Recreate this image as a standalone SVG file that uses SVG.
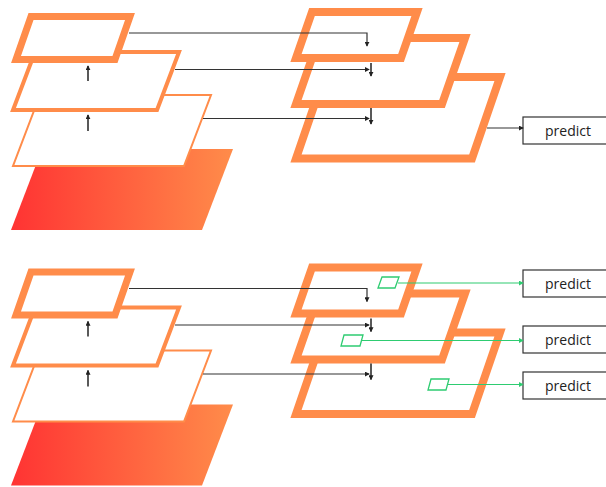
<svg xmlns="http://www.w3.org/2000/svg" width="606" height="487" viewBox="0 0 606 487">
  <defs>
    <linearGradient id="img" x1="0" y1="0" x2="1" y2="0">
      <stop offset="0" stop-color="#ff3333"/>
      <stop offset="1" stop-color="#ff8c4a"/>
    </linearGradient>
    <marker id="ah" viewBox="0 0 6 6" refX="5" refY="3" markerWidth="5" markerHeight="5" orient="auto" markerUnits="userSpaceOnUse">
      <path d="M0,0 L6,3 L0,6 z" fill="#222"/>
    </marker>
    <marker id="ahg" viewBox="0 0 6 6" refX="5" refY="3" markerWidth="5" markerHeight="5" orient="auto" markerUnits="userSpaceOnUse">
      <path d="M0,0 L6,3 L0,6 z" fill="#2ecc71"/>
    </marker>
  </defs>
  <style>
    .fm { fill: #fff; stroke: #ff8c4a; stroke-linejoin: miter; }
    .img { fill: url(#img); }
    .ln { fill: none; stroke: #333; stroke-width: 1.2; }
    .up { fill: none; stroke: #222; stroke-width: 1.5; }
    .gl { fill: none; stroke: #2ecc71; stroke-width: 1.2; }
    .gb { fill: #fff; stroke: #2ecc71; stroke-width: 1.3; }
    .box { fill: #fff; stroke: #333; stroke-width: 1.2; }
    .lbl { font-family: "Open Sans", "Noto Sans", sans-serif; font-size: 14px; fill: #222; text-anchor: middle; }
  </style>

  <!-- upper panel: single prediction -->
  <g id="panelA">
    <g id="a-input"><polygon class="img" points="42,149 233,149 202,230 11,230"/></g>
    <g id="a-c3"><polygon class="fm" stroke-width="2" points="40,95 211,95 184,166 13,166"/></g>
    <g id="a-c4"><polygon class="fm" stroke-width="4" points="35,52 179,52 157,110 13,110"/></g>
    <g id="a-c5"><polygon class="fm" stroke-width="7" points="31,16.5 130,16.5 115,59.5 16,59.5"/></g>
    <g id="a-p3"><polygon class="fm" stroke-width="8" points="324,77 500,77 472,158.5 296,158.5"/></g>
    <g id="a-p4"><polygon class="fm" stroke-width="8" points="319,38 465,38 442,104 296,104"/></g>
    <g id="a-p5"><polygon class="fm" stroke-width="8" points="312,12 417,12 401,58 296,58"/></g>
    <g id="a-predict">
      <rect class="box" x="523" y="117" width="90" height="27"/>
      <text class="lbl" x="568" y="135.5">predict</text>
    </g>
    <g id="a-connectors">
      <line class="up" x1="88" y1="81" x2="88" y2="66" marker-end="url(#ah)"/>
      <line class="up" x1="88" y1="131" x2="88" y2="115" marker-end="url(#ah)"/>
      <polyline class="ln" points="129,33 367,33 367,46" marker-end="url(#ah)"/>
      <line class="ln" x1="175" y1="69.5" x2="369" y2="69.5" marker-end="url(#ah)"/>
      <line class="up" x1="371" y1="63" x2="371" y2="76" marker-end="url(#ah)"/>
      <line class="ln" x1="203" y1="118.5" x2="369" y2="118.5" marker-end="url(#ah)"/>
      <line class="up" x1="371" y1="108" x2="371" y2="124" marker-end="url(#ah)"/>
      <line class="ln" x1="487" y1="128" x2="523" y2="128" marker-end="url(#ah)"/>
    </g>
  </g>

  <!-- lower panel: prediction at every level -->
  <g id="panelB" transform="translate(0,255.5)">
    <g id="b-input"><polygon class="img" points="42,149 233,149 202,230 11,230"/></g>
    <g id="b-c3"><polygon class="fm" stroke-width="2" points="40,95 211,95 184,166 13,166"/></g>
    <g id="b-c4"><polygon class="fm" stroke-width="4" points="35,52 179,52 157,110 13,110"/></g>
    <g id="b-c5"><polygon class="fm" stroke-width="7" points="31,16.5 130,16.5 115,59.5 16,59.5"/></g>
    <g id="b-p3"><polygon class="fm" stroke-width="8" points="324,77 500,77 472,158.5 296,158.5"/></g>
    <g id="b-p4"><polygon class="fm" stroke-width="8" points="319,38 465,38 442,104 296,104"/></g>
    <g id="b-p5"><polygon class="fm" stroke-width="8" points="312,12 417,12 401,58 296,58"/></g>
    <g id="b-predict1">
      <rect class="box" x="523" y="14.5" width="90" height="27"/>
      <text class="lbl" x="568" y="33">predict</text>
    </g>
    <g id="b-predict2">
      <rect class="box" x="523" y="70.5" width="90" height="27"/>
      <text class="lbl" x="568" y="89">predict</text>
    </g>
    <g id="b-predict3">
      <rect class="box" x="523" y="116.5" width="90" height="27"/>
      <text class="lbl" x="568" y="135">predict</text>
    </g>
    <g id="b-connectors">
      <line class="up" x1="88" y1="81" x2="88" y2="66" marker-end="url(#ah)"/>
      <line class="up" x1="88" y1="131" x2="88" y2="115" marker-end="url(#ah)"/>
      <polyline class="ln" points="129,33 367,33 367,46" marker-end="url(#ah)"/>
      <line class="ln" x1="175" y1="69.5" x2="369" y2="69.5" marker-end="url(#ah)"/>
      <line class="up" x1="371" y1="63" x2="371" y2="76" marker-end="url(#ah)"/>
      <line class="ln" x1="203" y1="118.5" x2="369" y2="118.5" marker-end="url(#ah)"/>
      <line class="up" x1="371" y1="108" x2="371" y2="124" marker-end="url(#ah)"/>
      <line class="gl" x1="398" y1="27.5" x2="523" y2="27.5" marker-end="url(#ahg)"/>
      <line class="gl" x1="361" y1="85" x2="523" y2="85" marker-end="url(#ahg)"/>
      <line class="gl" x1="448" y1="129" x2="523" y2="129" marker-end="url(#ahg)"/>
    </g>
    <g id="b-anchors">
      <polygon class="gb" points="382,21.5 399,21.5 395,32.5 378,32.5"/>
      <polygon class="gb" points="344,79.5 363,79.5 360,90.5 341,90.5"/>
      <polygon class="gb" points="431,123.5 449,123.5 446,134.5 428,134.5"/>
    </g>
  </g>
</svg>
